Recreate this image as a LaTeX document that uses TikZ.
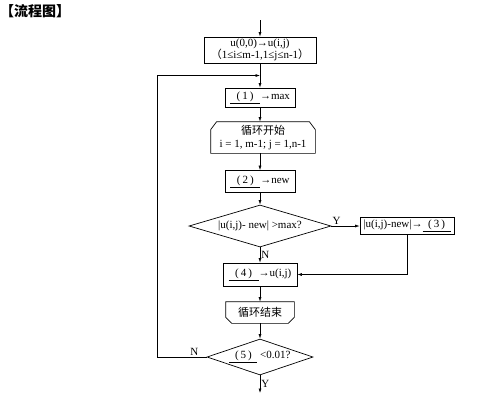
\documentclass[tikz,border=0pt]{standalone}
\usepackage{fontspec}
\setmainfont{Liberation Serif}
\newfontfamily\cjk{Noto Sans CJK SC}
\usetikzlibrary{positioning,arrows.meta,calc,shapes.geometric}
\newcommand{\fs}{\fontsize{11}{12.5}\selectfont}
\newcommand{\blank}[2][30pt]{\underline{\makebox[#1]{(\hspace{2pt}#2\hspace{2pt})}}}
\tikzset{
  box/.style={draw,line width=0.7pt,inner sep=1pt,align=center,font=\fs},
  loopbox/.style={box,draw=none},
  decide/.style={draw,diamond,aspect=3.4,inner sep=0pt,line width=0.7pt,font=\fs},
  flow/.style={-{Latex[length=4.5pt,width=3pt]},line width=0.6pt},
  lbl/.style={font=\fs,inner sep=1pt}
}

\begin{document}
\begin{tikzpicture}[x=1pt,y=-1pt]
\useasboundingbox (0,0) rectangle (492,416);
\node[anchor=north west,inner sep=0pt,font=\cjk\fontsize{14}{16}\selectfont\bfseries] (title) at (0,4) {【流程图】};

% main column
\coordinate (entry) at (260,20);
\node[box,minimum width=112pt,minimum height=26pt] (init) at (260,50)
  {u(0,0)→u(i,j)\\{\cjk （}1≤i≤m-1,1≤j≤n-1{\cjk ）}};
\node[box,minimum width=70pt,minimum height=19pt] (maxbox) at (260,97.5) {\blank{1}→max};
\node[loopbox,minimum width=104pt,minimum height=31pt] (start) at (263,137.5)
  {{\cjk 循环开始}\\i = 1, m-1; j = 1,n-1};
\node[box,minimum width=70pt,minimum height=22pt] (newbox) at (260,181.5) {\blank{2}→new};
\node[decide,minimum width=142pt,minimum height=42pt] (test) at (260,226) {|u(i,j)- new| >max?};
\node[box,minimum width=94pt,minimum height=17pt] (upd) at (407,226) {|u(i,j)-new|→\blank[28pt]{3}};
\node[box,minimum width=74pt,minimum height=23pt] (assign) at (260,274.5) {\blank{4}→u(i,j)};
\node[loopbox,minimum width=68pt,minimum height=21pt] (stop) at (260,312.5) {\cjk 循环结束};
\node[decide,aspect=3,minimum width=106pt,minimum height=36pt] (conv) at (260,357) {\blank[28pt]{5} <0.01?};
\coordinate (exit) at (260,393);
\coordinate (join) at ($(init.south)!0.5!(maxbox.north)$);

% loop begin / end outlines
\draw[line width=0.7pt] (start.south west) -- ([yshift=-8pt]start.north west) -- ([xshift=6pt]start.north west)
  -- ([xshift=-6pt]start.north east) -- ([yshift=-8pt]start.north east) -- (start.south east) -- cycle;
\draw[line width=0.7pt] (stop.north west) -- ([yshift=6pt]stop.south west) -- ([xshift=6pt]stop.south west)
  -- ([xshift=-6pt]stop.south east) -- ([yshift=6pt]stop.south east) -- (stop.north east) -- cycle;

% connectors
\draw[flow] (entry) -- (init);
\draw[flow] (init) -- (maxbox);
\draw[flow] (maxbox) -- (maxbox.south |- start.north);
\draw[flow] (maxbox.south |- start.south) -- (newbox);
\draw[flow] (newbox) -- (test);
\draw[flow] (test.east) -- node[lbl,above right,pos=0]{Y} (upd.west);
\draw[flow] (test) -- node[lbl,right]{N} (assign);
\draw[flow] (upd.south) |- (assign.east);
\draw[flow] (assign) -- (stop);
\draw[flow] (stop) -- (conv);
\draw[flow] (conv) -- node[lbl,right]{Y} (exit);
\draw[flow] (conv.west) -- node[lbl,above,pos=0.25]{N} ++(-49,0) |- (join);
\end{tikzpicture}
\end{document}
